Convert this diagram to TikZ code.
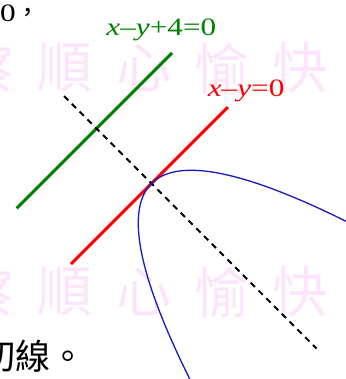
\documentclass[tikz,border=0pt]{standalone}
\usepackage{fontspec}
\setmainfont[FakeStretch=1.25]{Liberation Serif}
\newfontfamily\cjk{Noto Sans CJK TC}
\definecolor{wmpink}{RGB}{252,228,252}
\definecolor{lgreen}{RGB}{0,128,0}
\definecolor{cblue}{RGB}{25,25,190}
\tikzset{
  eqlabel/.style={font=\fontsize{25}{30}\selectfont, inner sep=0pt, anchor=base},
  wmchar/.style={text=wmpink, font=\cjk\fontsize{55}{60}\selectfont, inner sep=0pt},
  tline/.style={line width=3pt}
}
\begin{document}
\begin{tikzpicture}[x=27.5pt, y=27.5pt]
    % Frame (tangent point at the origin)
    \clip (-5.509,-7.109) rectangle (7.073,6.673);

    % Watermark
    \foreach \c [count=\i] in {察,順,心,愉,快} {
        \node[wmchar] (wa\i) at ({-5.98+(\i-1)*2.847}, 4.2) {\c};
        \node[wmchar] (wb\i) at ({-5.98+(\i-1)*2.847}, -3.945) {\c};
    }

    % Text cut off by the frame
    \node[eqlabel, anchor=base west] (topfrag) at (-5.509,5.873) {0{\cjk ，}};
    \node[anchor=base west, inner sep=0pt, font=\cjk\fontsize{35}{40}\selectfont] (botfrag) at (-6.236,-6.764) {切線。};

    % Lines
    \draw[lgreen, tline] (-4.9,-0.9) -- (0.75,4.75);
    \draw[red, tline] (-2.93,-2.93) -- (2.78,2.78);
    \draw[black, line width=1.8pt, dash pattern=on 6pt off 5pt] (-3.18,3.18) -- (6.0,-6.0);

    % Parabola
    \draw[cblue, line width=1.3pt, domain=-6.6:6.6, samples=120, smooth, variable=\t]
        plot ({(\t+0.26*\t*\t)/2}, {(\t-0.26*\t*\t)/2});

    % Labels
    \node[eqlabel, text=lgreen] (lgreen) at (0.36,5.40) {\textit{x}–\textit{y}+4=0};
    \node[eqlabel, text=red] (lred) at (3.44,3.18) {\textit{x}–\textit{y}=0};
\end{tikzpicture}
\end{document}
